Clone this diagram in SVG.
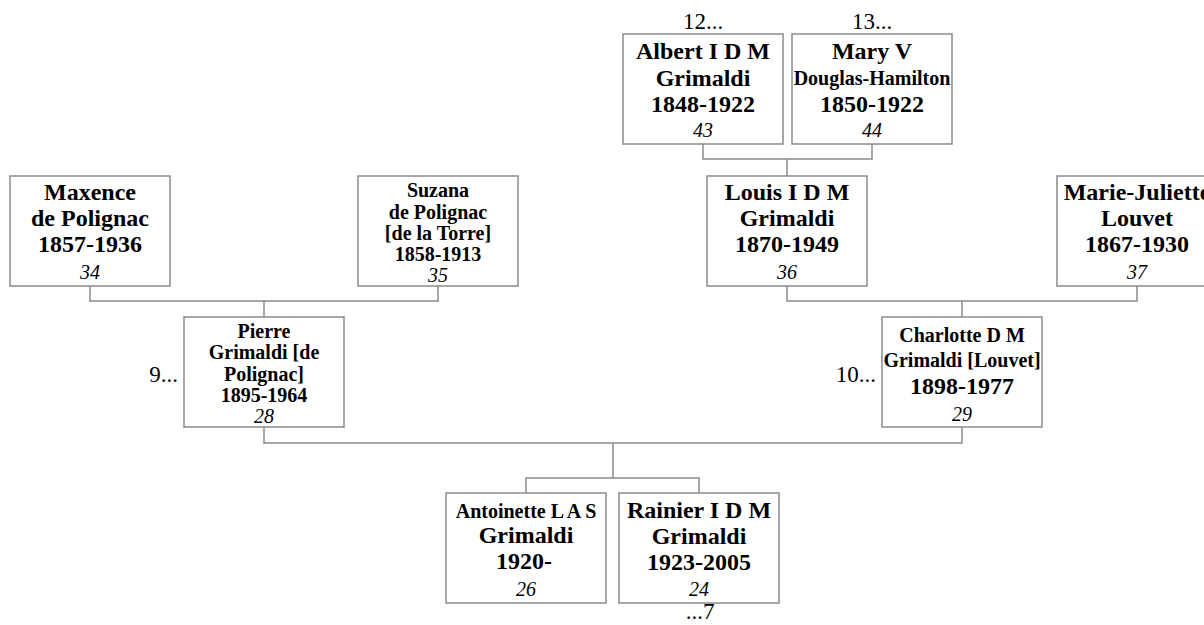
<svg xmlns="http://www.w3.org/2000/svg" width="1204" height="625" viewBox="0 0 1204 625">
<style>
.box{fill:#fff;stroke:#8a8a8a;stroke-width:1.5}
.ln{fill:none;stroke:#8a8a8a;stroke-width:1.5}
text{font-family:"Liberation Serif","Times New Roman",serif;fill:#000;text-anchor:middle}
.b{font-size:24px;font-weight:bold}
.s{font-size:20px;font-weight:bold}
.i{font-size:20px;font-style:italic}
.n{font-size:23px}
.r{text-anchor:end}
</style>
<rect width="1204" height="625" fill="#fff"/>
<g id="connectors">
<path class="ln" d="M703 144V159H872V144M787 159V176"/>
<path class="ln" d="M90 286V301H438V286M264 301V317"/>
<path class="ln" d="M787 286V301H1137V286M962 301V317"/>
<path class="ln" d="M264 427V443H962V427M613 443V478"/>
<path class="ln" d="M526 493V478H699V493"/>
</g>
<g id="n43">
<rect class="box" x="623" y="34" width="160" height="110"/>
<text class="n" x="703" y="29">12...</text>
<text class="b" x="703" y="59">Albert I D M</text>
<text class="b" x="703" y="86">Grimaldi</text>
<text class="b" x="703" y="112">1848-1922</text>
<text class="i" x="703" y="137">43</text>
</g>
<g id="n44">
<rect class="box" x="792" y="34" width="160" height="110"/>
<text class="n" x="872" y="29">13...</text>
<text class="b" x="872" y="59">Mary V</text>
<text class="s" x="872" y="85">Douglas-Hamilton</text>
<text class="b" x="872" y="112">1850-1922</text>
<text class="i" x="872" y="137">44</text>
</g>
<g id="n34">
<rect class="box" x="10" y="176" width="160" height="110"/>
<text class="b" x="90" y="200">Maxence</text>
<text class="b" x="90" y="226">de Polignac</text>
<text class="b" x="90" y="252">1857-1936</text>
<text class="i" x="90" y="279">34</text>
</g>
<g id="n35">
<rect class="box" x="358" y="176" width="160" height="110"/>
<text class="s" x="438" y="197">Suzana</text>
<text class="s" x="438" y="219">de Polignac</text>
<text class="s" x="438" y="240">[de la Torre]</text>
<text class="s" x="438" y="261">1858-1913</text>
<text class="i" x="438" y="282">35</text>
</g>
<g id="n36">
<rect class="box" x="707" y="176" width="160" height="110"/>
<text class="b" x="787" y="200">Louis I D M</text>
<text class="b" x="787" y="226">Grimaldi</text>
<text class="b" x="787" y="252">1870-1949</text>
<text class="i" x="787" y="279">36</text>
</g>
<g id="n37">
<rect class="box" x="1057" y="176" width="160" height="110"/>
<text class="b" x="1137" y="200">Marie-Juliette</text>
<text class="b" x="1137" y="226">Louvet</text>
<text class="b" x="1137" y="252">1867-1930</text>
<text class="i" x="1137" y="279">37</text>
</g>
<g id="n28">
<rect class="box" x="184" y="317" width="160" height="110"/>
<text class="n r" x="178" y="382">9...</text>
<text class="s" x="264" y="338">Pierre</text>
<text class="s" x="264" y="359">Grimaldi [de</text>
<text class="s" x="264" y="381">Polignac]</text>
<text class="s" x="264" y="402">1895-1964</text>
<text class="i" x="264" y="423">28</text>
</g>
<g id="n29">
<rect class="box" x="882" y="317" width="160" height="110"/>
<text class="n r" x="876" y="382">10...</text>
<text class="s" x="962" y="342">Charlotte D M</text>
<text class="s" x="962" y="367">Grimaldi [Louvet]</text>
<text class="b" x="962" y="394">1898-1977</text>
<text class="i" x="962" y="421">29</text>
</g>
<g id="n26">
<rect class="box" x="446" y="493" width="160" height="110"/>
<text class="s" x="526" y="518">Antoinette L A S</text>
<text class="b" x="526" y="543">Grimaldi</text>
<text class="b" x="524" y="569">1920-</text>
<text class="i" x="526" y="596">26</text>
</g>
<g id="n24">
<rect class="box" x="619" y="493" width="160" height="110"/>
<text class="b" x="699" y="518">Rainier I D M</text>
<text class="b" x="699" y="544">Grimaldi</text>
<text class="b" x="699" y="570">1923-2005</text>
<text class="i" x="699" y="596">24</text>
<text class="n" x="700" y="619">...7</text>
</g>
</svg>
